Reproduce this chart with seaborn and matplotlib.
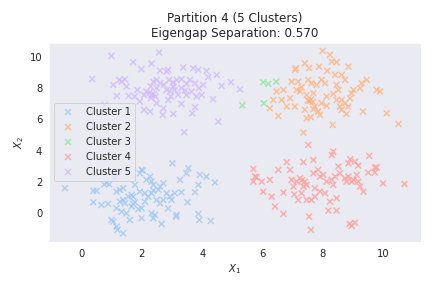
import numpy as np
import pandas as pd
import matplotlib
matplotlib.use("Agg")
import matplotlib.pyplot as plt
import seaborn as sns

labels = ["Cluster 1", "Cluster 2", "Cluster 3", "Cluster 4", "Cluster 5"]

c1_x = [-0.55, 0.39, 0.5, 0.39, 0.66, 0.88, 0.75, 0.82, 0.92, 1.1, 1.22, 0.99, 1.05, 1.16, 1.19, 1.38,
        1.16, 1.27, 1.38, 1.44, 1.33, 1.49, 1.6, 1.55, 1.66, 1.71, 1.77, 1.93, 1.99, 2.03, 2.1, 1.93,
        2.15, 2.27, 2.32, 2.38, 1.99, 1.88, 1.99, 2.32, 2.38, 2.43, 2.65, 2.49, 2.6, 2.71, 2.6, 2.71,
        2.82, 2.87, 2.93, 2.98, 3.09, 3.01, 3.31, 3.13, 3.54, 3.48, 3.76, 3.87, 3.92, 4.14, 4.42, 3.26,
        3.51, 3.87, 3.9, 4.28, 1.66, 1.71, 1.77, 2.1, 2.21, 2.32, 2.38, 1.16, 1.27, 1.38, 3.15, 2.55]
c1_y = [1.6, 1.43, 1.43, 0.7, 0.53, 0.6, 1.85, 1.95, 1.85, 2.23, 2.66, -0.43, -0.53, -0.85, -1.06, -1.28,
        0.32, 0.74, 0.85, 0.64, 0.1, 0.0, -0.43, 1.06, 1.17, 1.06, 1.81, 2.55, 2.77, 2.72, 1.28, 1.38,
        2.13, 2.34, 2.02, 1.81, 0.32, 0.26, -0.32, 0.0, -0.32, -0.11, -0.68, 0.85, 0.64, 0.85, 1.7, 1.91,
        1.28, 0.32, 1.06, 0.85, 1.28, 3.19, 1.34, -0.21, 2.87, 2.55, 1.34, 1.81, 2.45, 2.34, 1.96, 2.13,
        0.7, -0.04, -0.43, -0.49, 0.43, 0.6, 0.7, 0.74, 1.06, 1.28, 1.45, 1.38, 1.49, 1.6, -0.1, 1.5]

c2_x = [7.99, 8.23, 8.29, 8.45, 7.4, 7.1, 7.08, 7.54, 7.87, 8.14, 8.84, 8.62, 8.73, 9.28, 9.45, 9.01,
        9.23, 9.78, 9.89, 10.11, 10.5, 9.32, 8.78, 8.32, 7.35, 7.6, 7.24, 7.18, 7.29, 7.51, 7.62, 7.55,
        7.6, 7.66, 7.73, 7.84, 7.95, 7.9, 7.68, 8.12, 8.34, 8.45, 8.51, 8.62, 8.73, 8.84, 8.9, 8.95,
        7.95, 8.07, 7.79, 7.68, 8.56, 8.62, 6.46, 6.35, 6.24, 6.52, 6.8, 6.63, 6.91, 7.07, 6.69, 6.96,
        7.13, 8.12, 8.4, 7.46, 7.4, 7.46, 8.45, 7.5]
c2_y = [10.36, 10.11, 9.68, 9.64, 9.57, 9.26, 9.15, 9.26, 9.36, 9.09, 9.36, 8.83, 8.51, 8.3, 8.51, 7.87,
        7.98, 7.87, 7.77, 6.38, 5.7, 6.49, 6.34, 5.64, 5.15, 6.13, 7.77, 8.4, 8.04, 8.51, 8.3, 7.15,
        7.25, 7.1, 6.81, 6.49, 7.02, 6.28, 6.64, 6.85, 7.62, 8.19, 7.87, 7.23, 7.02, 6.81, 7.34, 7.66,
        8.51, 8.3, 8.19, 7.66, 6.81, 6.6, 7.77, 7.23, 6.7, 6.21, 6.81, 7.23, 7.34, 6.81, 7.87, 8.4,
        7.87, 7.45, 8.83, 7.55, 6.6, 6.06, 7.23, 7.2]

c3_x = [5.33, 6.04, 6.02, 6.19, 6.45]
c3_y = [6.89, 7.02, 8.36, 8.26, 8.4]

c4_x = [7.51, 8.34, 8.29, 9.53, 8.9, 9.06, 8.51, 7.68, 7.35, 6.8, 6.52, 6.91, 5.69, 5.75, 5.8, 5.97,
        6.24, 5.69, 6.02, 6.3, 6.41, 6.69, 6.69, 7.02, 6.96, 7.13, 7.24, 7.35, 7.4, 7.46, 7.46, 7.62,
        7.73, 7.54, 7.6, 8.18, 8.45, 8.23, 8.45, 8.88, 9.06, 8.95, 7.68, 7.84, 7.9, 8.01, 8.12, 8.29,
        8.4, 8.34, 8.56, 8.73, 8.78, 8.84, 8.95, 9.01, 9.12, 9.17, 9.23, 9.34, 9.17, 9.5, 9.72, 9.78,
        9.72, 9.99, 10.7, 8.84, 7.9, 8.07, 7.29, 7.18, 7.73, 7.05, 7.3]
c4_y = [4.36, 3.94, 3.72, 3.66, 3.45, 3.3, 2.98, 3.4, 3.26, 3.26, 2.77, 2.77, 2.83, 2.34, 2.3, 2.02,
        2.13, 2.02, 1.38, 1.06, 0.43, -0.04, 1.32, 1.7, 2.13, 2.02, 2.23, 1.7, 2.02, 1.81, 0.85, 0.85,
        1.06, -0.21, -1.06, 0.17, 0.17, 0.74, 0.96, -0.68, -0.6, -0.81, 2.55, 2.77, 2.34, 2.45, 2.02, 2.13,
        2.34, 1.81, 2.55, 2.23, 2.02, 2.34, 2.02, 2.13, 2.45, 2.02, 1.7, 1.38, 3.04, 2.6, 2.6, 2.92,
        2.92, 1.91, 1.87, 3.19, 1.38, 1.28, 1.28, 0.85, 1.6, 1.2, 2.1]

c5_x = [0.99, 2.57, 0.35, 1.71, 1.98, 2.32, 2.6, 3.37, 3.7, 3.87, 4.14, 4.48, 1.05, 1.25, 1.33, 1.44,
        1.49, 1.17, 1.56, 1.76, 1.85, 2.07, 2.29, 2.38, 2.32, 2.49, 2.6, 2.73, 2.9, 3.04, 3.15, 3.31,
        3.48, 3.59, 3.76, 3.89, 4.03, 4.2, 4.64, 4.95, 5.25, 4.36, 4.53, 3.4, 3.67, 3.76, 3.31, 3.04,
        2.69, 2.71, 2.27, 2.07, 1.93, 2.49, 2.87, 2.96, 3.2, 3.48, 3.65, 3.81, 3.98, 0.77, 2.3, 2.4,
        2.45, 2.25, 2.82, 2.93, 3.04, 3.09, 3.31, 3.43, 2.15, 2.49, 2.82, 2.87]
c5_y = [10.04, 10.26, 8.57, 9.64, 9.19, 9.55, 9.1, 9.3, 9.25, 9.15, 9.08, 8.83, 8.19, 8.5, 8.4, 8.55,
        8.09, 7.49, 7.49, 7.45, 7.87, 7.55, 8.09, 8.4, 7.55, 7.98, 8.3, 8.19, 8.51, 8.34, 8.51, 8.55,
        8.26, 8.51, 8.3, 7.98, 8.19, 8.68, 8.13, 8.36, 7.91, 7.28, 5.85, 5.17, 6.38, 6.77, 6.98, 6.34,
        6.28, 6.7, 6.49, 6.6, 7.13, 7.02, 7.23, 7.45, 7.55, 7.55, 7.77, 7.45, 7.55, 6.91, 7.35, 7.6,
        7.45, 7.7, 7.87, 7.77, 8.09, 7.87, 7.98, 7.83, 7.77, 8.51, 9.04, 9.15]

xs = [c1_x, c2_x, c3_x, c4_x, c5_x]
ys = [c1_y, c2_y, c3_y, c4_y, c5_y]
df = pd.concat([pd.DataFrame({"x": x, "y": y, "cluster": lab}) for x, y, lab in zip(xs, ys, labels)],
               ignore_index=True)

sns.set_style("dark")
fig, ax = plt.subplots(figsize=(6, 4), dpi=72)
fig.subplots_adjust(left=0.114, right=0.974, top=0.852, bottom=0.161)

sns.scatterplot(data=df, x="x", y="y", hue="cluster", hue_order=labels,
                palette="pastel", marker="x", s=36, alpha=0.8, linewidth=1.5, ax=ax)

ax.set_xlim(-1.07, 11.24)
ax.set_ylim(-1.81, 10.89)
ax.set_xticks([0, 2, 4, 6, 8, 10])
ax.set_yticks([0, 2, 4, 6, 8, 10])
ax.set_xlabel("$X_1$")
ax.set_ylabel("$X_2$")
ax.set_title("Partition 4 (5 Clusters)\nEigengap Separation: 0.570")
ax.legend(loc="center left")

fig.savefig("out.png", dpi=72)
